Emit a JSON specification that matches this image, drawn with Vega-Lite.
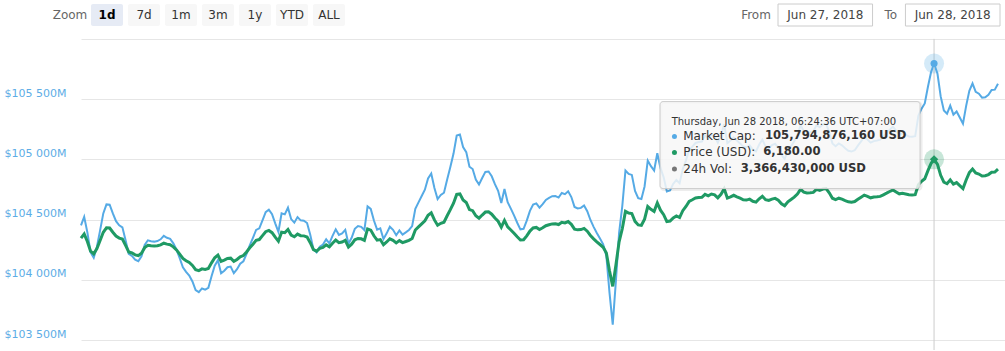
{
"$schema": "https://vega.github.io/schema/vega-lite/v6.json",
"width": 1005,
"height": 351,
"autosize": {"type": "fit", "contains": "padding"},
"padding": {"left": 4, "top": 0, "right": 0, "bottom": 0},
"background": "#ffffff",
"config": {"view": {"stroke": null}, "font": "DejaVu Sans", "text": {"font": "DejaVu Sans"}},
"datasets": {
"btc": [
{"time":"2018-06-27T08:05","market_cap_m":104452.0,"price":6101.55},
{"time":"2018-06-27T08:10","market_cap_m":104522.3,"price":6105.66},
{"time":"2018-06-27T08:15","market_cap_m":104394.0,"price":6098.17},
{"time":"2018-06-27T08:20","market_cap_m":104228.5,"price":6088.50},
{"time":"2018-06-27T08:25","market_cap_m":104182.9,"price":6085.84},
{"time":"2018-06-27T08:30","market_cap_m":104274.0,"price":6091.16},
{"time":"2018-06-27T08:35","market_cap_m":104410.6,"price":6099.13},
{"time":"2018-06-27T08:40","market_cap_m":104551.3,"price":6107.35},
{"time":"2018-06-27T08:45","market_cap_m":104625.8,"price":6111.71},
{"time":"2018-06-27T08:50","market_cap_m":104623.3,"price":6111.56},
{"time":"2018-06-27T08:55","market_cap_m":104551.3,"price":6107.35},
{"time":"2018-06-27T09:00","market_cap_m":104486.7,"price":6103.58},
{"time":"2018-06-27T09:05","market_cap_m":104452.0,"price":6101.55},
{"time":"2018-06-27T09:10","market_cap_m":104435.4,"price":6100.58},
{"time":"2018-06-27T09:15","market_cap_m":104327.8,"price":6094.30},
{"time":"2018-06-27T09:20","market_cap_m":104216.0,"price":6087.77},
{"time":"2018-06-27T09:25","market_cap_m":104197.8,"price":6086.71},
{"time":"2018-06-27T09:30","market_cap_m":104166.4,"price":6084.87},
{"time":"2018-06-27T09:35","market_cap_m":104154.0,"price":6084.14},
{"time":"2018-06-27T09:40","market_cap_m":104195.4,"price":6086.56},
{"time":"2018-06-27T09:45","market_cap_m":104288.9,"price":6092.03},
{"time":"2018-06-27T09:50","market_cap_m":104327.8,"price":6094.30},
{"time":"2018-06-27T09:55","market_cap_m":104320.4,"price":6093.86},
{"time":"2018-06-27T10:00","market_cap_m":104317.0,"price":6093.67},
{"time":"2018-06-27T10:05","market_cap_m":104322.0,"price":6093.96},
{"time":"2018-06-27T10:10","market_cap_m":104336.1,"price":6094.78},
{"time":"2018-06-27T10:15","market_cap_m":104365.1,"price":6096.47},
{"time":"2018-06-27T10:20","market_cap_m":104348.5,"price":6095.51},
{"time":"2018-06-27T10:25","market_cap_m":104340.2,"price":6095.02},
{"time":"2018-06-27T10:30","market_cap_m":104303.0,"price":6092.85},
{"time":"2018-06-27T10:35","market_cap_m":104250.8,"price":6089.80},
{"time":"2018-06-27T10:40","market_cap_m":104178.8,"price":6085.59},
{"time":"2018-06-27T10:45","market_cap_m":104104.3,"price":6081.24},
{"time":"2018-06-27T10:50","market_cap_m":104065.4,"price":6078.97},
{"time":"2018-06-27T10:55","market_cap_m":104035.6,"price":6077.23},
{"time":"2018-06-27T11:00","market_cap_m":103985.9,"price":6074.33},
{"time":"2018-06-27T11:05","market_cap_m":103913.9,"price":6070.12},
{"time":"2018-06-27T11:10","market_cap_m":103897.3,"price":6069.15},
{"time":"2018-06-27T11:15","market_cap_m":103928.0,"price":6070.94},
{"time":"2018-06-27T11:20","market_cap_m":103918.0,"price":6070.36},
{"time":"2018-06-27T11:25","market_cap_m":103932.9,"price":6071.23},
{"time":"2018-06-27T11:30","market_cap_m":104029.8,"price":6076.89},
{"time":"2018-06-27T11:35","market_cap_m":104116.7,"price":6081.97},
{"time":"2018-06-27T11:40","market_cap_m":104162.2,"price":6084.63},
{"time":"2018-06-27T11:45","market_cap_m":104054.6,"price":6078.34},
{"time":"2018-06-27T11:50","market_cap_m":104075.3,"price":6079.55},
{"time":"2018-06-27T11:55","market_cap_m":104104.3,"price":6081.24},
{"time":"2018-06-27T12:00","market_cap_m":104110.1,"price":6081.58},
{"time":"2018-06-27T12:05","market_cap_m":104054.6,"price":6078.34},
{"time":"2018-06-27T12:10","market_cap_m":104087.7,"price":6080.27},
{"time":"2018-06-27T12:15","market_cap_m":104133.3,"price":6082.93},
{"time":"2018-06-27T12:20","market_cap_m":104154.0,"price":6084.14},
{"time":"2018-06-27T12:25","market_cap_m":104216.0,"price":6087.77},
{"time":"2018-06-27T12:30","market_cap_m":104286.4,"price":6091.88},
{"time":"2018-06-27T12:35","market_cap_m":104348.5,"price":6095.51},
{"time":"2018-06-27T12:40","market_cap_m":104413.9,"price":6099.33},
{"time":"2018-06-27T12:45","market_cap_m":104427.1,"price":6100.10},
{"time":"2018-06-27T12:50","market_cap_m":104493.4,"price":6103.97},
{"time":"2018-06-27T12:55","market_cap_m":104561.2,"price":6107.93},
{"time":"2018-06-27T13:00","market_cap_m":104582.8,"price":6109.19},
{"time":"2018-06-27T13:05","market_cap_m":104544.7,"price":6106.97},
{"time":"2018-06-27T13:10","market_cap_m":104468.5,"price":6102.52},
{"time":"2018-06-27T13:15","market_cap_m":104398.2,"price":6098.41},
{"time":"2018-06-27T13:20","market_cap_m":104551.3,"price":6107.35},
{"time":"2018-06-27T13:25","market_cap_m":104543.0,"price":6106.87},
{"time":"2018-06-27T13:30","market_cap_m":104598.5,"price":6110.11},
{"time":"2018-06-27T13:35","market_cap_m":104504.1,"price":6104.60},
{"time":"2018-06-27T13:40","market_cap_m":104474.3,"price":6102.86},
{"time":"2018-06-27T13:45","market_cap_m":104520.7,"price":6105.56},
{"time":"2018-06-27T13:50","market_cap_m":104493.4,"price":6103.97},
{"time":"2018-06-27T13:55","market_cap_m":104490.0,"price":6103.77},
{"time":"2018-06-27T14:00","market_cap_m":104471.0,"price":6102.66},
{"time":"2018-06-27T14:05","market_cap_m":104373.3,"price":6096.96},
{"time":"2018-06-27T14:10","market_cap_m":104253.3,"price":6089.95},
{"time":"2018-06-27T14:15","market_cap_m":104228.5,"price":6088.50},
{"time":"2018-06-27T14:20","market_cap_m":104275.6,"price":6091.25},
{"time":"2018-06-27T14:25","market_cap_m":104293.0,"price":6092.27},
{"time":"2018-06-27T14:30","market_cap_m":104336.1,"price":6094.78},
{"time":"2018-06-27T14:35","market_cap_m":104303.0,"price":6092.85},
{"time":"2018-06-27T14:40","market_cap_m":104365.1,"price":6096.47},
{"time":"2018-06-27T14:45","market_cap_m":104418.9,"price":6099.62},
{"time":"2018-06-27T14:50","market_cap_m":104373.3,"price":6096.96},
{"time":"2018-06-27T14:55","market_cap_m":104385.7,"price":6097.68},
{"time":"2018-06-27T15:00","market_cap_m":104414.7,"price":6099.38},
{"time":"2018-06-27T15:05","market_cap_m":104298.8,"price":6092.61},
{"time":"2018-06-27T15:10","market_cap_m":104348.5,"price":6095.51},
{"time":"2018-06-27T15:15","market_cap_m":104423.0,"price":6099.86},
{"time":"2018-06-27T15:20","market_cap_m":104446.2,"price":6101.21},
{"time":"2018-06-27T15:25","market_cap_m":104440.0,"price":6100.85},
{"time":"2018-06-27T15:30","market_cap_m":104413.1,"price":6099.28},
{"time":"2018-06-27T15:35","market_cap_m":104609.3,"price":6110.74},
{"time":"2018-06-27T15:40","market_cap_m":104588.6,"price":6109.53},
{"time":"2018-06-27T15:45","market_cap_m":104491.7,"price":6103.87},
{"time":"2018-06-27T15:50","market_cap_m":104416.4,"price":6099.47},
{"time":"2018-06-27T15:55","market_cap_m":104427.1,"price":6100.10},
{"time":"2018-06-27T16:00","market_cap_m":104338.6,"price":6094.93},
{"time":"2018-06-27T16:05","market_cap_m":104385.7,"price":6097.68},
{"time":"2018-06-27T16:10","market_cap_m":104440.4,"price":6100.87},
{"time":"2018-06-27T16:15","market_cap_m":104414.7,"price":6099.38},
{"time":"2018-06-27T16:20","market_cap_m":104370.0,"price":6096.76},
{"time":"2018-06-27T16:25","market_cap_m":104408.9,"price":6099.04},
{"time":"2018-06-27T16:30","market_cap_m":104375.8,"price":6097.10},
{"time":"2018-06-27T16:35","market_cap_m":104394.0,"price":6098.17},
{"time":"2018-06-27T16:40","market_cap_m":104413.9,"price":6099.33},
{"time":"2018-06-27T16:45","market_cap_m":104445.3,"price":6101.16},
{"time":"2018-06-27T16:50","market_cap_m":104589.4,"price":6109.58},
{"time":"2018-06-27T16:55","market_cap_m":104642.4,"price":6112.67},
{"time":"2018-06-27T17:00","market_cap_m":104695.3,"price":6115.77},
{"time":"2018-06-27T17:05","market_cap_m":104747.5,"price":6118.81},
{"time":"2018-06-27T17:10","market_cap_m":104841.0,"price":6124.28},
{"time":"2018-06-27T17:15","market_cap_m":104882.4,"price":6126.70},
{"time":"2018-06-27T17:20","market_cap_m":104762.4,"price":6119.68},
{"time":"2018-06-27T17:25","market_cap_m":104670.5,"price":6114.32},
{"time":"2018-06-27T17:30","market_cap_m":104704.4,"price":6116.30},
{"time":"2018-06-27T17:35","market_cap_m":104722.7,"price":6117.36},
{"time":"2018-06-27T17:40","market_cap_m":104832.8,"price":6123.80},
{"time":"2018-06-27T17:45","market_cap_m":104937.1,"price":6129.89},
{"time":"2018-06-27T17:50","market_cap_m":105048.0,"price":6136.37},
{"time":"2018-06-27T17:55","market_cap_m":105197.0,"price":6145.07},
{"time":"2018-06-27T18:00","market_cap_m":105205.3,"price":6145.56},
{"time":"2018-06-27T18:05","market_cap_m":105101.8,"price":6139.51},
{"time":"2018-06-27T18:10","market_cap_m":105059.6,"price":6137.05},
{"time":"2018-06-27T18:15","market_cap_m":104938.7,"price":6129.98},
{"time":"2018-06-27T18:20","market_cap_m":104919.7,"price":6128.87},
{"time":"2018-06-27T18:25","market_cap_m":104832.8,"price":6123.80},
{"time":"2018-06-27T18:30","market_cap_m":104791.4,"price":6121.38},
{"time":"2018-06-27T18:35","market_cap_m":104845.2,"price":6124.52},
{"time":"2018-06-27T18:40","market_cap_m":104895.7,"price":6127.47},
{"time":"2018-06-27T18:45","market_cap_m":104899.0,"price":6127.66},
{"time":"2018-06-27T18:50","market_cap_m":104859.2,"price":6125.34},
{"time":"2018-06-27T18:55","market_cap_m":104793.9,"price":6121.52},
{"time":"2018-06-27T19:00","market_cap_m":104739.2,"price":6118.33},
{"time":"2018-06-27T19:05","market_cap_m":104638.2,"price":6112.43},
{"time":"2018-06-27T19:10","market_cap_m":104753.3,"price":6119.15},
{"time":"2018-06-27T19:15","market_cap_m":104644.0,"price":6112.77},
{"time":"2018-06-27T19:20","market_cap_m":104591.0,"price":6109.68},
{"time":"2018-06-27T19:25","market_cap_m":104534.8,"price":6106.39},
{"time":"2018-06-27T19:30","market_cap_m":104473.5,"price":6102.81},
{"time":"2018-06-27T19:35","market_cap_m":104418.9,"price":6099.62},
{"time":"2018-06-27T19:40","market_cap_m":104423.0,"price":6099.86},
{"time":"2018-06-27T19:45","market_cap_m":104490.9,"price":6103.82},
{"time":"2018-06-27T19:50","market_cap_m":104572.0,"price":6108.56},
{"time":"2018-06-27T19:55","market_cap_m":104624.2,"price":6111.61},
{"time":"2018-06-27T20:00","market_cap_m":104634.1,"price":6112.19},
{"time":"2018-06-27T20:05","market_cap_m":104598.5,"price":6110.11},
{"time":"2018-06-27T20:10","market_cap_m":104627.5,"price":6111.80},
{"time":"2018-06-27T20:15","market_cap_m":104663.1,"price":6113.88},
{"time":"2018-06-27T20:20","market_cap_m":104679.6,"price":6114.85},
{"time":"2018-06-27T20:25","market_cap_m":104693.7,"price":6115.67},
{"time":"2018-06-27T20:30","market_cap_m":104695.3,"price":6115.77},
{"time":"2018-06-27T20:35","market_cap_m":104682.9,"price":6115.04},
{"time":"2018-06-27T20:40","market_cap_m":104721.0,"price":6117.27},
{"time":"2018-06-27T20:45","market_cap_m":104711.1,"price":6116.69},
{"time":"2018-06-27T20:50","market_cap_m":104734.3,"price":6118.04},
{"time":"2018-06-27T20:55","market_cap_m":104687.1,"price":6115.28},
{"time":"2018-06-27T21:00","market_cap_m":104605.1,"price":6110.50},
{"time":"2018-06-27T21:05","market_cap_m":104592.7,"price":6109.77},
{"time":"2018-06-27T21:10","market_cap_m":104596.8,"price":6110.01},
{"time":"2018-06-27T21:15","market_cap_m":104617.5,"price":6111.22},
{"time":"2018-06-27T21:20","market_cap_m":104569.5,"price":6108.42},
{"time":"2018-06-27T21:25","market_cap_m":104496.7,"price":6104.16},
{"time":"2018-06-27T21:30","market_cap_m":104439.6,"price":6100.83},
{"time":"2018-06-27T21:35","market_cap_m":104389.1,"price":6097.88},
{"time":"2018-06-27T21:40","market_cap_m":104342.7,"price":6095.17},
{"time":"2018-06-27T21:45","market_cap_m":104294.7,"price":6092.36},
{"time":"2018-06-27T21:50","market_cap_m":104197.8,"price":6086.71},
{"time":"2018-06-27T21:55","market_cap_m":103889.1,"price":6068.67},
{"time":"2018-06-27T22:00","market_cap_m":103628.3,"price":6053.44},
{"time":"2018-06-27T22:05","market_cap_m":103992.5,"price":6074.71},
{"time":"2018-06-27T22:10","market_cap_m":104389.1,"price":6097.88},
{"time":"2018-06-27T22:15","market_cap_m":104610.9,"price":6110.84},
{"time":"2018-06-27T22:20","market_cap_m":104907.3,"price":6128.15},
{"time":"2018-06-27T22:25","market_cap_m":104879.1,"price":6126.50},
{"time":"2018-06-27T22:30","market_cap_m":104870.8,"price":6126.02},
{"time":"2018-06-27T22:35","market_cap_m":104737.6,"price":6118.23},
{"time":"2018-06-27T22:40","market_cap_m":104677.1,"price":6114.70},
{"time":"2018-06-27T22:45","market_cap_m":104670.5,"price":6114.32},
{"time":"2018-06-27T22:50","market_cap_m":104774.8,"price":6120.41},
{"time":"2018-06-27T22:55","market_cap_m":104990.0,"price":6132.98},
{"time":"2018-06-27T23:00","market_cap_m":104942.9,"price":6130.23},
{"time":"2018-06-27T23:05","market_cap_m":104907.3,"price":6128.15},
{"time":"2018-06-27T23:10","market_cap_m":105050.5,"price":6136.51},
{"time":"2018-06-27T23:15","market_cap_m":104927.1,"price":6129.31},
{"time":"2018-06-27T23:20","market_cap_m":104851.0,"price":6124.86},
{"time":"2018-06-27T23:25","market_cap_m":104733.4,"price":6117.99},
{"time":"2018-06-27T23:30","market_cap_m":104741.7,"price":6118.48},
{"time":"2018-06-27T23:35","market_cap_m":104796.3,"price":6121.67},
{"time":"2018-06-27T23:40","market_cap_m":104828.6,"price":6123.55},
{"time":"2018-06-27T23:45","market_cap_m":104802.1,"price":6122.01},
{"time":"2018-06-27T23:50","market_cap_m":104918.9,"price":6128.82},
{"time":"2018-06-27T23:55","market_cap_m":104991.7,"price":6133.08},
{"time":"2018-06-28T00:00","market_cap_m":105078.6,"price":6138.16},
{"time":"2018-06-28T00:05","market_cap_m":105105.9,"price":6139.75},
{"time":"2018-06-28T00:10","market_cap_m":105135.7,"price":6141.49},
{"time":"2018-06-28T00:15","market_cap_m":105143.2,"price":6141.93},
{"time":"2018-06-28T00:20","market_cap_m":105147.3,"price":6142.17},
{"time":"2018-06-28T00:25","market_cap_m":105198.7,"price":6145.17},
{"time":"2018-06-28T00:30","market_cap_m":105173.0,"price":6143.67},
{"time":"2018-06-28T00:35","market_cap_m":105203.6,"price":6145.46},
{"time":"2018-06-28T00:40","market_cap_m":105190.4,"price":6144.69},
{"time":"2018-06-28T00:45","market_cap_m":105139.0,"price":6141.69},
{"time":"2018-06-28T00:50","market_cap_m":105198.7,"price":6145.17},
{"time":"2018-06-28T00:55","market_cap_m":105292.2,"price":6150.63},
{"time":"2018-06-28T01:00","market_cap_m":105134.1,"price":6141.40},
{"time":"2018-06-28T01:05","market_cap_m":105155.6,"price":6142.65},
{"time":"2018-06-28T01:10","market_cap_m":105182.1,"price":6144.20},
{"time":"2018-06-28T01:15","market_cap_m":105155.6,"price":6142.65},
{"time":"2018-06-28T01:20","market_cap_m":105132.4,"price":6141.30},
{"time":"2018-06-28T01:25","market_cap_m":105105.9,"price":6139.75},
{"time":"2018-06-28T01:30","market_cap_m":105100.1,"price":6139.41},
{"time":"2018-06-28T01:35","market_cap_m":105115.9,"price":6140.33},
{"time":"2018-06-28T01:40","market_cap_m":105080.3,"price":6138.25},
{"time":"2018-06-28T01:45","market_cap_m":105066.2,"price":6137.43},
{"time":"2018-06-28T01:50","market_cap_m":105122.5,"price":6140.72},
{"time":"2018-06-28T01:55","market_cap_m":105164.7,"price":6143.19},
{"time":"2018-06-28T02:00","market_cap_m":105105.9,"price":6139.75},
{"time":"2018-06-28T02:05","market_cap_m":105093.5,"price":6139.03},
{"time":"2018-06-28T02:10","market_cap_m":105117.5,"price":6140.43},
{"time":"2018-06-28T02:15","market_cap_m":105129.1,"price":6141.11},
{"time":"2018-06-28T02:20","market_cap_m":105097.7,"price":6139.27},
{"time":"2018-06-28T02:25","market_cap_m":105037.2,"price":6135.74},
{"time":"2018-06-28T02:30","market_cap_m":105003.3,"price":6133.76},
{"time":"2018-06-28T02:35","market_cap_m":105071.2,"price":6137.72},
{"time":"2018-06-28T02:40","market_cap_m":105109.2,"price":6139.95},
{"time":"2018-06-28T02:45","market_cap_m":105149.8,"price":6142.32},
{"time":"2018-06-28T02:50","market_cap_m":105202.0,"price":6145.36},
{"time":"2018-06-28T02:55","market_cap_m":105283.9,"price":6150.15},
{"time":"2018-06-28T03:00","market_cap_m":105234.2,"price":6147.25},
{"time":"2018-06-28T03:05","market_cap_m":105222.7,"price":6146.57},
{"time":"2018-06-28T03:10","market_cap_m":105224.3,"price":6146.67},
{"time":"2018-06-28T03:15","market_cap_m":105230.9,"price":6147.05},
{"time":"2018-06-28T03:20","market_cap_m":105283.9,"price":6150.15},
{"time":"2018-06-28T03:25","market_cap_m":105266.5,"price":6149.13},
{"time":"2018-06-28T03:30","market_cap_m":105288.9,"price":6150.44},
{"time":"2018-06-28T03:35","market_cap_m":105297.2,"price":6150.92},
{"time":"2018-06-28T03:40","market_cap_m":105224.3,"price":6146.67},
{"time":"2018-06-28T03:45","market_cap_m":105132.4,"price":6141.30},
{"time":"2018-06-28T03:50","market_cap_m":105109.2,"price":6139.95},
{"time":"2018-06-28T03:55","market_cap_m":105132.4,"price":6141.30},
{"time":"2018-06-28T04:00","market_cap_m":105115.9,"price":6140.33},
{"time":"2018-06-28T04:05","market_cap_m":105091.9,"price":6138.93},
{"time":"2018-06-28T04:10","market_cap_m":105071.2,"price":6137.72},
{"time":"2018-06-28T04:15","market_cap_m":105064.5,"price":6137.34},
{"time":"2018-06-28T04:20","market_cap_m":105075.3,"price":6137.96},
{"time":"2018-06-28T04:25","market_cap_m":105114.2,"price":6140.24},
{"time":"2018-06-28T04:30","market_cap_m":105149.8,"price":6142.32},
{"time":"2018-06-28T04:35","market_cap_m":105185.4,"price":6144.40},
{"time":"2018-06-28T04:40","market_cap_m":105164.7,"price":6143.19},
{"time":"2018-06-28T04:45","market_cap_m":105139.0,"price":6141.69},
{"time":"2018-06-28T04:50","market_cap_m":105151.5,"price":6142.41},
{"time":"2018-06-28T04:55","market_cap_m":105156.4,"price":6142.70},
{"time":"2018-06-28T05:00","market_cap_m":105163.1,"price":6143.09},
{"time":"2018-06-28T05:05","market_cap_m":105190.4,"price":6144.69},
{"time":"2018-06-28T05:10","market_cap_m":105217.7,"price":6146.28},
{"time":"2018-06-28T05:15","market_cap_m":105246.7,"price":6147.97},
{"time":"2018-06-28T05:20","market_cap_m":105271.5,"price":6149.42},
{"time":"2018-06-28T05:25","market_cap_m":105238.4,"price":6147.49},
{"time":"2018-06-28T05:30","market_cap_m":105206.9,"price":6145.65},
{"time":"2018-06-28T05:35","market_cap_m":105216.0,"price":6146.18},
{"time":"2018-06-28T05:40","market_cap_m":105203.6,"price":6145.46},
{"time":"2018-06-28T05:45","market_cap_m":105190.4,"price":6144.69},
{"time":"2018-06-28T05:50","market_cap_m":105188.0,"price":6144.55},
{"time":"2018-06-28T05:55","market_cap_m":105192.0,"price":6144.78},
{"time":"2018-06-28T06:00","market_cap_m":105362.6,"price":6154.74},
{"time":"2018-06-28T06:05","market_cap_m":105420.5,"price":6158.13},
{"time":"2018-06-28T06:10","market_cap_m":105464.4,"price":6160.69},
{"time":"2018-06-28T06:15","market_cap_m":105602.6,"price":6168.77},
{"time":"2018-06-28T06:20","market_cap_m":105726.8,"price":6176.02},
{"time":"2018-06-28T06:24:36","market_cap_m":105794.87616,"price":6180.00},
{"time":"2018-06-28T06:30","market_cap_m":105710.2,"price":6175.05},
{"time":"2018-06-28T06:35","market_cap_m":105522.3,"price":6164.08},
{"time":"2018-06-28T06:40","market_cap_m":105405.6,"price":6157.26},
{"time":"2018-06-28T06:45","market_cap_m":105379.1,"price":6155.71},
{"time":"2018-06-28T06:50","market_cap_m":105445.3,"price":6159.58},
{"time":"2018-06-28T06:55","market_cap_m":105370.8,"price":6155.23},
{"time":"2018-06-28T07:00","market_cap_m":105397.3,"price":6156.77},
{"time":"2018-06-28T07:05","market_cap_m":105346.8,"price":6153.82},
{"time":"2018-06-28T07:10","market_cap_m":105296.3,"price":6150.88},
{"time":"2018-06-28T07:15","market_cap_m":105443.7,"price":6159.48},
{"time":"2018-06-28T07:20","market_cap_m":105569.5,"price":6166.83},
{"time":"2018-06-28T07:25","market_cap_m":105630.8,"price":6170.41},
{"time":"2018-06-28T07:30","market_cap_m":105561.2,"price":6166.35},
{"time":"2018-06-28T07:35","market_cap_m":105544.7,"price":6165.38},
{"time":"2018-06-28T07:40","market_cap_m":105511.6,"price":6163.45},
{"time":"2018-06-28T07:45","market_cap_m":105514.9,"price":6163.64},
{"time":"2018-06-28T07:50","market_cap_m":105535.6,"price":6164.85},
{"time":"2018-06-28T07:55","market_cap_m":105575.3,"price":6167.17},
{"time":"2018-06-28T08:00","market_cap_m":105578.6,"price":6167.36},
{"time":"2018-06-28T08:05","market_cap_m":105627.4,"price":6170.22}
],
"tooltip": [
{"part":"header","text":"Thursday, Jun 28 2018, 06:24:36 UTC+07:00"},
{"part":"Market Cap","label":"Market Cap:","value":"105,794,876,160 USD"},
{"part":"Price (USD)","label":"Price (USD):","value":"6,180.00"},
{"part":"24h Vol","label":"24h Vol:","value":"3,366,430,000 USD"}
],
"zoom_buttons": [
{"item":"Zoom","kind":"label","selected":false},
{"item":"1d","kind":"button","selected":true},
{"item":"7d","kind":"button","selected":false},
{"item":"1m","kind":"button","selected":false},
{"item":"3m","kind":"button","selected":false},
{"item":"1y","kind":"button","selected":false},
{"item":"YTD","kind":"button","selected":false},
{"item":"ALL","kind":"button","selected":false}
],
"range_inputs": [
{"label":"From","date":"Jun 27, 2018"},
{"label":"To","date":"Jun 28, 2018"}
]
},
"layer": [
{
"data": {"name": "btc"},
"layer": [
{
"mark": {"type": "line", "color": "#55aae5", "strokeWidth": 2},
"encoding": {
"x": {"field": "time", "type": "temporal", "axis": null, "scale": {"domain": [{"year": 2018, "month": 6, "date": 27, "hours": 8, "minutes": 5}, {"year": 2018, "month": 6, "date": 28, "hours": 8, "minutes": 16}]}},
"y": {"field": "market_cap_m", "type": "quantitative", "title": null,
"scale": {"domain": [103417.2, 106322.8], "nice": false, "zero": false},
"axis": {"values": [103500, 104000, 104500, 105000, 105500, 106000],
"labelExpr": "datum.value >= 106000 ? '' : '$' + replace(format(datum.value, ','), ',', ' ') + 'M'",
"title": null, "grid": true, "gridColor": "#e6e6e6", "gridWidth": 1, "domain": false, "ticks": false,
"labelPadding": 15, "labelColor": "#5dade6", "labelFont": "DejaVu Sans", "labelFontSize": 11,
"labelBaseline": "middle", "labelOffset": -6, "labelAlign": "right"}}
}
}
]
},
{
"data": {"name": "btc"},
"transform": [{"filter": {"field": "time", "equal": {"year": 2018, "month": 6, "date": 28, "hours": 6, "minutes": 24, "seconds": 36}}}],
"mark": {"type": "rule", "color": "#cccccc", "strokeWidth": 1},
"encoding": {
"x": {"field": "time", "type": "temporal", "axis": null, "scale": {"domain": [{"year": 2018, "month": 6, "date": 27, "hours": 8, "minutes": 5}, {"year": 2018, "month": 6, "date": 28, "hours": 8, "minutes": 16}]}},
"y": {"datum": 106000, "type": "quantitative", "axis": null, "scale": {"domain": [103417.2, 106322.8], "nice": false, "zero": false}},
"y2": {"datum": 103417.2}
}
},
{
"data": {"name": "btc"},
"layer": [
{
"mark": {"type": "line", "color": "#1f9a64", "strokeWidth": 3},
"encoding": {
"x": {"field": "time", "type": "temporal", "axis": null, "scale": {"domain": [{"year": 2018, "month": 6, "date": 27, "hours": 8, "minutes": 5}, {"year": 2018, "month": 6, "date": 28, "hours": 8, "minutes": 16}]}},
"y": {"field": "price", "type": "quantitative", "axis": null, "scale": {"domain": [5990.07, 6338.74], "nice": false, "zero": false}}
}
},
{
"transform": [{"filter": {"field": "time", "equal": {"year": 2018, "month": 6, "date": 28, "hours": 6, "minutes": 24, "seconds": 36}}}],
"mark": {"type": "point", "shape": "circle", "filled": true, "size": 400, "color": "#1f9a64", "opacity": 0.25},
"encoding": {
"x": {"field": "time", "type": "temporal", "axis": null},
"y": {"field": "price", "type": "quantitative", "axis": null}
}
},
{
"transform": [{"filter": {"field": "time", "equal": {"year": 2018, "month": 6, "date": 28, "hours": 6, "minutes": 24, "seconds": 36}}}],
"mark": {"type": "point", "shape": "diamond", "filled": true, "size": 70, "color": "#1f9a64", "opacity": 1},
"encoding": {
"x": {"field": "time", "type": "temporal", "axis": null},
"y": {"field": "price", "type": "quantitative", "axis": null}
}
}
]
},
{
"layer": [
{
"data": {"name": "btc"},
"transform": [{"filter": {"field": "time", "equal": {"year": 2018, "month": 6, "date": 28, "hours": 6, "minutes": 24, "seconds": 36}}}],
"mark": {"type": "point", "shape": "circle", "filled": true, "size": 400, "color": "#55aae5", "opacity": 0.25},
"encoding": {
"x": {"field": "time", "type": "temporal", "axis": null, "scale": {"domain": [{"year": 2018, "month": 6, "date": 27, "hours": 8, "minutes": 5}, {"year": 2018, "month": 6, "date": 28, "hours": 8, "minutes": 16}]}},
"y": {"field": "market_cap_m", "type": "quantitative", "axis": null, "scale": {"domain": [103417.2, 106322.8], "nice": false, "zero": false}}
}
},
{
"data": {"name": "btc"},
"transform": [{"filter": {"field": "time", "equal": {"year": 2018, "month": 6, "date": 28, "hours": 6, "minutes": 24, "seconds": 36}}}],
"mark": {"type": "point", "shape": "circle", "filled": true, "size": 50, "color": "#55aae5", "opacity": 1},
"encoding": {
"x": {"field": "time", "type": "temporal", "axis": null},
"y": {"field": "market_cap_m", "type": "quantitative", "axis": null}
}
},
{
"data": {"name": "btc"},
"transform": [{"filter": {"field": "time", "equal": {"year": 2018, "month": 6, "date": 28, "hours": 6, "minutes": 24, "seconds": 36}}}],
"mark": {"type": "rect", "fill": null, "stroke": "#000000", "strokeOpacity": 0.07, "strokeWidth": 3, "cornerRadius": 3, "xOffset": -273, "x2Offset": -13, "yOffset": 39, "y2Offset": 126},
"encoding": {
"x": {"field": "time", "type": "temporal", "axis": null},
"x2": {"field": "time"},
"y": {"field": "market_cap_m", "type": "quantitative", "axis": null},
"y2": {"field": "market_cap_m"}
}
},
{
"data": {"name": "btc"},
"transform": [{"filter": {"field": "time", "equal": {"year": 2018, "month": 6, "date": 28, "hours": 6, "minutes": 24, "seconds": 36}}}],
"mark": {"type": "rect", "fill": "#f7f7f7", "fillOpacity": 0.85, "stroke": "#cccccc", "strokeWidth": 1, "cornerRadius": 3, "xOffset": -274, "x2Offset": -14, "yOffset": 38, "y2Offset": 125},
"encoding": {
"x": {"field": "time", "type": "temporal", "axis": null},
"x2": {"field": "time"},
"y": {"field": "market_cap_m", "type": "quantitative", "axis": null},
"y2": {"field": "market_cap_m"}
}
},
{
"data": {"name": "tooltip"},
"transform": [{"filter": "datum.part === 'header'"}],
"mark": {"type": "text", "align": "left", "baseline": "middle", "fontSize": 10, "color": "#333333", "xOffset": -262.4, "yOffset": 58.5},
"encoding": {
"x": {"datum": {"year": 2018, "month": 6, "date": 28, "hours": 6, "minutes": 24, "seconds": 36}, "type": "temporal", "axis": null},
"y": {"datum": 105794.87616, "type": "quantitative", "axis": null},
"text": {"field": "text"}
}
},
{
"data": {"name": "tooltip"},
"transform": [{"filter": "datum.part === 'Market Cap'"}],
"mark": {"type": "point", "shape": "circle", "filled": true, "size": 25, "color": "#55aae5", "opacity": 1, "xOffset": -259.6, "yOffset": 72.9},
"encoding": {
"x": {"datum": {"year": 2018, "month": 6, "date": 28, "hours": 6, "minutes": 24, "seconds": 36}, "type": "temporal", "axis": null},
"y": {"datum": 105794.87616, "type": "quantitative", "axis": null}
}
},
{
"data": {"name": "tooltip"},
"transform": [{"filter": "datum.part === 'Price (USD)'"}],
"mark": {"type": "point", "shape": "circle", "filled": true, "size": 25, "color": "#1f9a64", "opacity": 1, "xOffset": -259.6, "yOffset": 88.9},
"encoding": {
"x": {"datum": {"year": 2018, "month": 6, "date": 28, "hours": 6, "minutes": 24, "seconds": 36}, "type": "temporal", "axis": null},
"y": {"datum": 105794.87616, "type": "quantitative", "axis": null}
}
},
{
"data": {"name": "tooltip"},
"transform": [{"filter": "datum.part === '24h Vol'"}],
"mark": {"type": "point", "shape": "circle", "filled": true, "size": 25, "color": "#777777", "opacity": 1, "xOffset": -259.6, "yOffset": 105.5},
"encoding": {
"x": {"datum": {"year": 2018, "month": 6, "date": 28, "hours": 6, "minutes": 24, "seconds": 36}, "type": "temporal", "axis": null},
"y": {"datum": 105794.87616, "type": "quantitative", "axis": null}
}
},
{
"data": {"name": "tooltip"},
"transform": [{"filter": "datum.part === 'Market Cap'"}],
"mark": {"type": "text", "align": "left", "baseline": "middle", "fontSize": 12, "color": "#333333", "xOffset": -250.8, "yOffset": 72.9},
"encoding": {
"x": {"datum": {"year": 2018, "month": 6, "date": 28, "hours": 6, "minutes": 24, "seconds": 36}, "type": "temporal", "axis": null},
"y": {"datum": 105794.87616, "type": "quantitative", "axis": null},
"text": {"field": "label"}
}
},
{
"data": {"name": "tooltip"},
"transform": [{"filter": "datum.part === 'Price (USD)'"}],
"mark": {"type": "text", "align": "left", "baseline": "middle", "fontSize": 12, "color": "#333333", "xOffset": -250.8, "yOffset": 88.9},
"encoding": {
"x": {"datum": {"year": 2018, "month": 6, "date": 28, "hours": 6, "minutes": 24, "seconds": 36}, "type": "temporal", "axis": null},
"y": {"datum": 105794.87616, "type": "quantitative", "axis": null},
"text": {"field": "label"}
}
},
{
"data": {"name": "tooltip"},
"transform": [{"filter": "datum.part === '24h Vol'"}],
"mark": {"type": "text", "align": "left", "baseline": "middle", "fontSize": 12, "color": "#333333", "xOffset": -250.8, "yOffset": 105.5},
"encoding": {
"x": {"datum": {"year": 2018, "month": 6, "date": 28, "hours": 6, "minutes": 24, "seconds": 36}, "type": "temporal", "axis": null},
"y": {"datum": 105794.87616, "type": "quantitative", "axis": null},
"text": {"field": "label"}
}
},
{
"data": {"name": "tooltip"},
"transform": [{"filter": "datum.part === 'Market Cap'"}],
"mark": {"type": "text", "align": "left", "baseline": "middle", "fontSize": 11.6, "fontWeight": "bold", "color": "#333333", "xOffset": -169.1, "yOffset": 72.9},
"encoding": {
"x": {"datum": {"year": 2018, "month": 6, "date": 28, "hours": 6, "minutes": 24, "seconds": 36}, "type": "temporal", "axis": null},
"y": {"datum": 105794.87616, "type": "quantitative", "axis": null},
"text": {"field": "value"}
}
},
{
"data": {"name": "tooltip"},
"transform": [{"filter": "datum.part === 'Price (USD)'"}],
"mark": {"type": "text", "align": "left", "baseline": "middle", "fontSize": 11.6, "fontWeight": "bold", "color": "#333333", "xOffset": -170.8, "yOffset": 88.9},
"encoding": {
"x": {"datum": {"year": 2018, "month": 6, "date": 28, "hours": 6, "minutes": 24, "seconds": 36}, "type": "temporal", "axis": null},
"y": {"datum": 105794.87616, "type": "quantitative", "axis": null},
"text": {"field": "value"}
}
},
{
"data": {"name": "tooltip"},
"transform": [{"filter": "datum.part === '24h Vol'"}],
"mark": {"type": "text", "align": "left", "baseline": "middle", "fontSize": 11.6, "fontWeight": "bold", "color": "#333333", "xOffset": -193.4, "yOffset": 105.5},
"encoding": {
"x": {"datum": {"year": 2018, "month": 6, "date": 28, "hours": 6, "minutes": 24, "seconds": 36}, "type": "temporal", "axis": null},
"y": {"datum": 105794.87616, "type": "quantitative", "axis": null},
"text": {"field": "value"}
}
}
]
},
{
"data": {"name": "zoom_buttons"},
"encoding": {
"x": {"field": "item", "type": "nominal", "axis": null, "sort": null, "scale": {"type": "band", "domain": ["Zoom", "1d", "7d", "1m", "3m", "1y", "YTD", "ALL"], "range": [-27, 264], "paddingInner": 0.135, "paddingOuter": 0}},
"y": {"datum": "controls", "type": "nominal", "axis": null, "scale": {"type": "band", "domain": ["controls"], "range": [4, 26], "paddingInner": 0, "paddingOuter": 0}}
},
"layer": [
{
"transform": [{"filter": "datum.kind === 'button'"}],
"mark": {"type": "rect", "cornerRadius": 2},
"encoding": {"fill": {"condition": {"test": "datum.selected", "value": "#e6ebf5"}, "value": "#f7f7f7"}}
},
{
"transform": [{"filter": "datum.kind === 'label'"}],
"mark": {"type": "text", "color": "#666666", "fontSize": 12, "baseline": "middle"},
"encoding": {"text": {"field": "item"}}
},
{
"transform": [{"filter": "datum.kind === 'button' && !datum.selected"}],
"mark": {"type": "text", "color": "#333333", "fontSize": 12, "baseline": "middle"},
"encoding": {"text": {"field": "item"}}
},
{
"transform": [{"filter": "datum.selected"}],
"mark": {"type": "text", "color": "#000000", "fontSize": 12, "fontWeight": "bold", "baseline": "middle"},
"encoding": {"text": {"field": "item"}}
}
]
},
{
"data": {"name": "range_inputs"},
"mark": {"type": "text", "color": "#666666", "fontSize": 12, "baseline": "middle"},
"encoding": {
"x": {"field": "label", "type": "nominal", "axis": null, "sort": null, "scale": {"type": "point", "domain": ["From", "To"], "range": [675, 809.7], "padding": 0}},
"y": {"datum": "controls", "type": "nominal", "axis": null, "scale": {"type": "band", "domain": ["controls"], "range": [4, 26], "paddingInner": 0, "paddingOuter": 0}},
"text": {"field": "label"}
}
},
{
"data": {"name": "range_inputs"},
"encoding": {
"x": {"field": "date", "type": "nominal", "axis": null, "sort": null, "scale": {"type": "band", "domain": ["Jun 27, 2018", "Jun 28, 2018"], "range": [697, 919], "paddingInner": 0.258, "paddingOuter": 0}},
"y": {"datum": "controls", "type": "nominal", "axis": null, "scale": {"type": "band", "domain": ["controls"], "range": [4, 26], "paddingInner": 0, "paddingOuter": 0}}
},
"layer": [
{"mark": {"type": "rect", "fill": "#ffffff", "stroke": "#cccccc", "strokeWidth": 1}},
{"mark": {"type": "text", "color": "#444444", "fontSize": 12, "baseline": "middle"}, "encoding": {"text": {"field": "date"}}}
]
}
],
"resolve": {"scale": {"x": "independent", "y": "independent"}}
}
